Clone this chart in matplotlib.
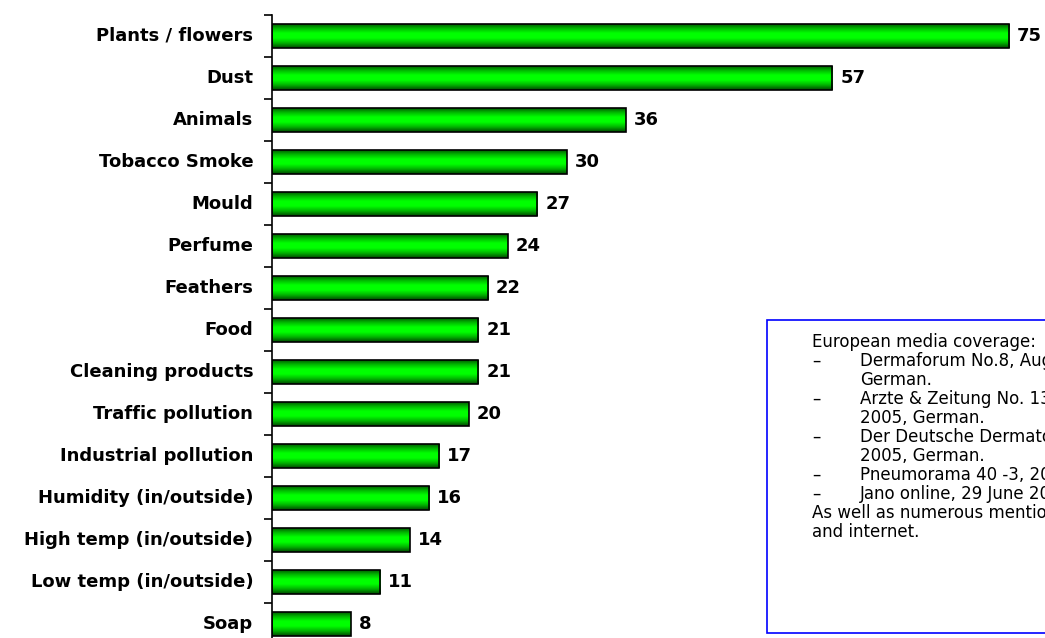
import matplotlib
matplotlib.use("Agg")
from matplotlib import pyplot as plt
from matplotlib.colors import LinearSegmentedColormap
from matplotlib.patches import Rectangle
import numpy as np

categories = ["Plants / flowers", "Dust", "Animals", "Tobacco Smoke", "Mould",
              "Perfume", "Feathers", "Food", "Cleaning products", "Traffic pollution",
              "Industrial pollution", "Humidity (in/outside)", "High temp (in/outside)",
              "Low temp (in/outside)", "Soap"]
values = [75, 57, 36, 30, 27, 24, 22, 21, 21, 20, 17, 16, 14, 11, 8]

note_lines = [
    ("", "European media coverage:"),
    ("\u2013", "Dermaforum No.8, August 2005,"),
    ("", "German."),
    ("\u2013", "Arzte & Zeitung No. 134, July"),
    ("", "2005, German."),
    ("\u2013", "Der Deutsche Dermatologe, July"),
    ("", "2005, German."),
    ("\u2013", "Pneumorama 40 -3, 2005, Spanish."),
    ("\u2013", "Jano online, 29 June 2005, Spanish."),
    ("", "As well as numerous mentions in press"),
    ("", "and internet."),
]

plt.rcParams['font.family'] = ['DejaVu Sans']

W, H = 1045, 638
fig = plt.figure(figsize=(W / 100, H / 100), dpi=100)
px = 9.83  # pixels per unit
xmax = 78
ax = fig.add_axes([272 / W, 1 - 645 / H, xmax * px / W, 630 / H])

y = np.arange(len(categories))
bars = ax.barh(y, values, height=0.58, facecolor="none", edgecolor="black",
               linewidth=1.2, zorder=3)

cmap = LinearSegmentedColormap.from_list(
    "g", ["#004800", "#00b400", "#00ff00", "#00ff00", "#00b400", "#004800"])
grad = np.linspace(0, 1, 64).reshape(-1, 1)
for b in bars:
    x0, y0 = b.get_x(), b.get_y()
    im = ax.imshow(grad, aspect="auto", cmap=cmap,
                   extent=[x0, x0 + b.get_width(), y0 + b.get_height(), y0],
                   zorder=2)
    im.set_clip_path(b)

for yi, v in zip(y, values):
    ax.text(v + 0.8, yi, str(v), va="center", ha="left", fontsize=13,
            fontweight="bold", color="black")

ax.set_xlim(0, xmax)
ax.set_ylim(len(categories) - 0.5, -0.5)

ax.set_yticks(np.arange(len(categories) + 1) - 0.5)
ax.set_yticklabels([])
ax.tick_params(axis="y", which="major", length=6, width=1.2, direction="out")
ax.set_yticks(y, minor=True)
ax.set_yticklabels(categories, minor=True, fontsize=13, fontweight="bold",
                   va="center")
ax.tick_params(axis="y", which="minor", length=0, pad=13.5)

for s in ["top", "right", "bottom"]:
    ax.spines[s].set_visible(False)
ax.spines["left"].set_linewidth(1.2)
ax.set_xticks([])

# note box
fig.patches.append(Rectangle((767 / W, 1 - 633 / H), 400 / W, 313 / H,
                             transform=fig.transFigure, facecolor="white",
                             edgecolor="#0000ff", linewidth=1.2, zorder=5))
for i, (dash, line) in enumerate(note_lines):
    ty = 1 - (342 + i * 19) / H
    if dash:
        fig.text(812 / W, ty, dash, fontsize=12, va="center", ha="left", zorder=6)
        fig.text(860 / W, ty, line, fontsize=12, va="center", ha="left", zorder=6)
    else:
        tx = 860 / W if line.startswith(("German", "2005")) else 812 / W
        fig.text(tx, ty, line, fontsize=12, va="center", ha="left", zorder=6)

fig.savefig("out.png", dpi=100)
